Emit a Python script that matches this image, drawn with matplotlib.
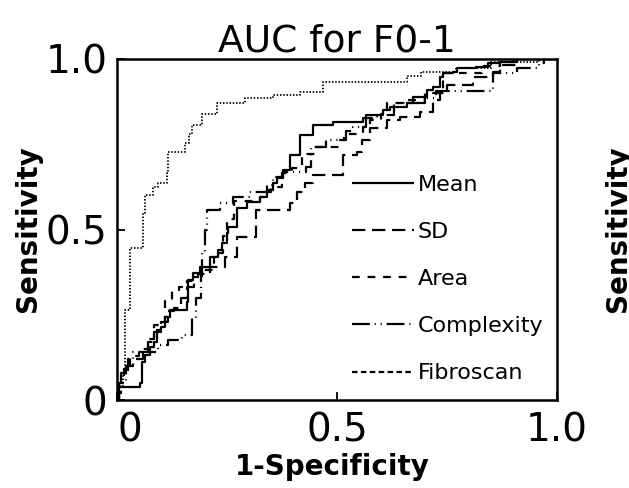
import matplotlib
matplotlib.use('Agg')
import matplotlib.pyplot as plt
from matplotlib.lines import Line2D


# ROC 曲线数据 (1-特异度, 灵敏度)，按图读取的阶梯拐点
mean_fpr = [0.0, 0.003, 0.045, 0.052, 0.056, 0.064, 0.075, 0.083, 0.090, 0.100,
            0.109, 0.120, 0.158, 0.162, 0.173, 0.189, 0.211, 0.230, 0.238, 0.249,
            0.253, 0.272, 0.295, 0.325, 0.340, 0.355, 0.363, 0.378, 0.393, 0.416,
            0.446, 0.492, 0.560, 0.567, 0.605, 0.620, 0.658, 0.673, 0.704, 0.719,
            0.734, 0.742, 0.764, 0.772, 0.817, 0.844, 0.870, 0.908, 1.0]
mean_tpr = [0.0, 0.039, 0.039, 0.049, 0.112, 0.132, 0.156, 0.171, 0.205, 0.215,
            0.244, 0.264, 0.288, 0.352, 0.371, 0.391, 0.420, 0.440, 0.459, 0.489,
            0.508, 0.562, 0.582, 0.596, 0.616, 0.635, 0.650, 0.674, 0.718, 0.777,
            0.806, 0.816, 0.826, 0.836, 0.850, 0.860, 0.870, 0.890, 0.909, 0.919,
            0.948, 0.958, 0.963, 0.973, 0.978, 0.987, 0.992, 1.0, 1.0]

sd_fpr = [0.0, 0.005, 0.010, 0.025, 0.060, 0.070, 0.085, 0.100, 0.115, 0.130,
          0.145, 0.160, 0.175, 0.185, 0.211, 0.245, 0.272, 0.317, 0.393, 0.408,
          0.427, 0.446, 0.514, 0.545, 0.556, 0.575, 0.613, 0.643, 0.689, 0.719,
          0.734, 0.749, 0.810, 0.855, 0.870, 0.908, 1.0]
sd_tpr = [0.0, 0.020, 0.080, 0.120, 0.140, 0.170, 0.200, 0.230, 0.260, 0.270,
          0.300, 0.330, 0.360, 0.370, 0.391, 0.420, 0.479, 0.557, 0.577, 0.611,
          0.635, 0.660, 0.718, 0.728, 0.762, 0.797, 0.820, 0.830, 0.845, 0.880,
          0.900, 0.924, 0.948, 0.963, 0.982, 1.0, 1.0]

area_fpr = [0.0, 0.005, 0.015, 0.030, 0.050, 0.070, 0.085, 0.095, 0.110, 0.125,
            0.140, 0.160, 0.190, 0.220, 0.240, 0.250, 0.265, 0.325, 0.333, 0.350,
            0.374, 0.397, 0.420, 0.450, 0.507, 0.515, 0.560, 0.575, 0.600, 0.613,
            0.660, 0.700, 0.740, 0.830, 0.870, 0.900, 1.0]
area_tpr = [0.0, 0.050, 0.100, 0.130, 0.150, 0.180, 0.220, 0.230, 0.290, 0.320,
            0.330, 0.350, 0.380, 0.430, 0.480, 0.530, 0.585, 0.595, 0.610, 0.625,
            0.665, 0.680, 0.720, 0.743, 0.762, 0.780, 0.800, 0.820, 0.840, 0.870,
            0.880, 0.900, 0.960, 0.980, 0.990, 1.0, 1.0]

cx_fpr = [0.0, 0.005, 0.020, 0.037, 0.094, 0.117, 0.147, 0.170, 0.180, 0.190,
          0.193, 0.200, 0.204, 0.234, 0.264, 0.300, 0.340, 0.355, 0.378, 0.430,
          0.442, 0.476, 0.520, 0.537, 0.567, 0.590, 0.630, 0.700, 0.725, 0.855,
          0.908, 0.960, 0.970, 1.0]
cx_tpr = [0.0, 0.050, 0.100, 0.140, 0.160, 0.175, 0.190, 0.240, 0.300, 0.360,
          0.430, 0.500, 0.557, 0.577, 0.596, 0.610, 0.630, 0.655, 0.670, 0.684,
          0.743, 0.762, 0.790, 0.800, 0.826, 0.836, 0.870, 0.885, 0.906, 0.958,
          0.973, 0.987, 1.0, 1.0]

fib_fpr = [0.0, 0.005, 0.014, 0.018, 0.030, 0.060, 0.063, 0.082, 0.094, 0.113,
           0.116, 0.155, 0.163, 0.170, 0.193, 0.227, 0.290, 0.355, 0.416, 0.468,
           0.660, 0.690, 0.770, 0.850, 0.960, 1.0]
fib_tpr = [0.0, 0.040, 0.080, 0.264, 0.445, 0.548, 0.600, 0.625, 0.635, 0.665,
           0.727, 0.753, 0.780, 0.806, 0.840, 0.870, 0.885, 0.895, 0.903, 0.933,
           0.950, 0.963, 0.975, 0.990, 1.0, 1.0]

labels = ['Mean', 'SD', 'Area', 'Complexity', 'Fibroscan']
ticks = [0, 0.5, 1.0]
tick_labels = ['0', '0.5', '1.0']

# 线型
styles = {
    'Mean': '-',
    'SD': (0, (6, 3)),
    'Area': (0, (3.5, 3.5)),
    'Complexity': (0, (8, 2.2, 0.5, 2.2, 0.5, 2.2)),
    'Fibroscan': (0, (0.8, 1.0)),
}

plt.rcParams['font.family'] = ['DejaVu Sans']

fig = plt.figure(figsize=(6.29, 4.88), dpi=100)
ax = fig.add_axes([117 / 629, 88 / 488, 440 / 629, 341 / 488])

curves = [(mean_fpr, mean_tpr), (sd_fpr, sd_tpr), (area_fpr, area_tpr),
          (cx_fpr, cx_tpr), (fib_fpr, fib_tpr)]
for (fpr, tpr), name in zip(curves, labels):
    lw = 1.3 if name == 'Fibroscan' else 1.6
    ax.plot(fpr, tpr, color='black', lw=lw, ls=styles[name],
            drawstyle='steps-post', solid_capstyle='butt', dash_capstyle='butt')

ax.set_xlim(0, 1)
ax.set_ylim(0, 1)
ax.set_xticks(ticks)
ax.set_xticklabels(tick_labels)
ax.set_yticks(ticks)
ax.set_yticklabels(tick_labels)
ax.tick_params(direction='in', length=6, width=1.3, labelsize=28)
ax.tick_params(axis='x', pad=8)
ax.tick_params(axis='y', pad=7)
ax.get_xticklabels()[0].set_horizontalalignment('left')
for lab in ax.get_yticklabels():
    lab.set_verticalalignment('center_baseline')
for sp in ax.spines.values():
    sp.set_linewidth(1.8)

ax.set_title('AUC for F0-1', fontsize=27, pad=5)

# 图例
handles = []
for name in labels:
    ls = (0, (2.5, 1.5)) if name == 'Fibroscan' else styles[name]
    handles.append(Line2D([], [], color='black', lw=1.6, ls=ls,
                          solid_capstyle='butt', dash_capstyle='butt'))
ax.legend(handles, labels, loc='upper left', bbox_to_anchor=(0.534, 0.66),
          frameon=False, fontsize=16, handlelength=2.8, handletextpad=0.15,
          labelspacing=1.22, borderpad=0, borderaxespad=0)

fig.text(0.529, 0.043, '1-Specificity', fontsize=20, fontweight='bold',
         ha='center', va='center')
fig.text(0.045, 0.531, 'Sensitivity', fontsize=20, fontweight='bold',
         rotation=90, ha='center', va='center')
# 右侧相邻子图的纵轴标签（参考图中被裁掉一半）
fig.text(0.983, 0.531, 'Sensitivity', fontsize=20, fontweight='bold',
         rotation=90, ha='center', va='center')

fig.savefig('out.png', dpi=100)
